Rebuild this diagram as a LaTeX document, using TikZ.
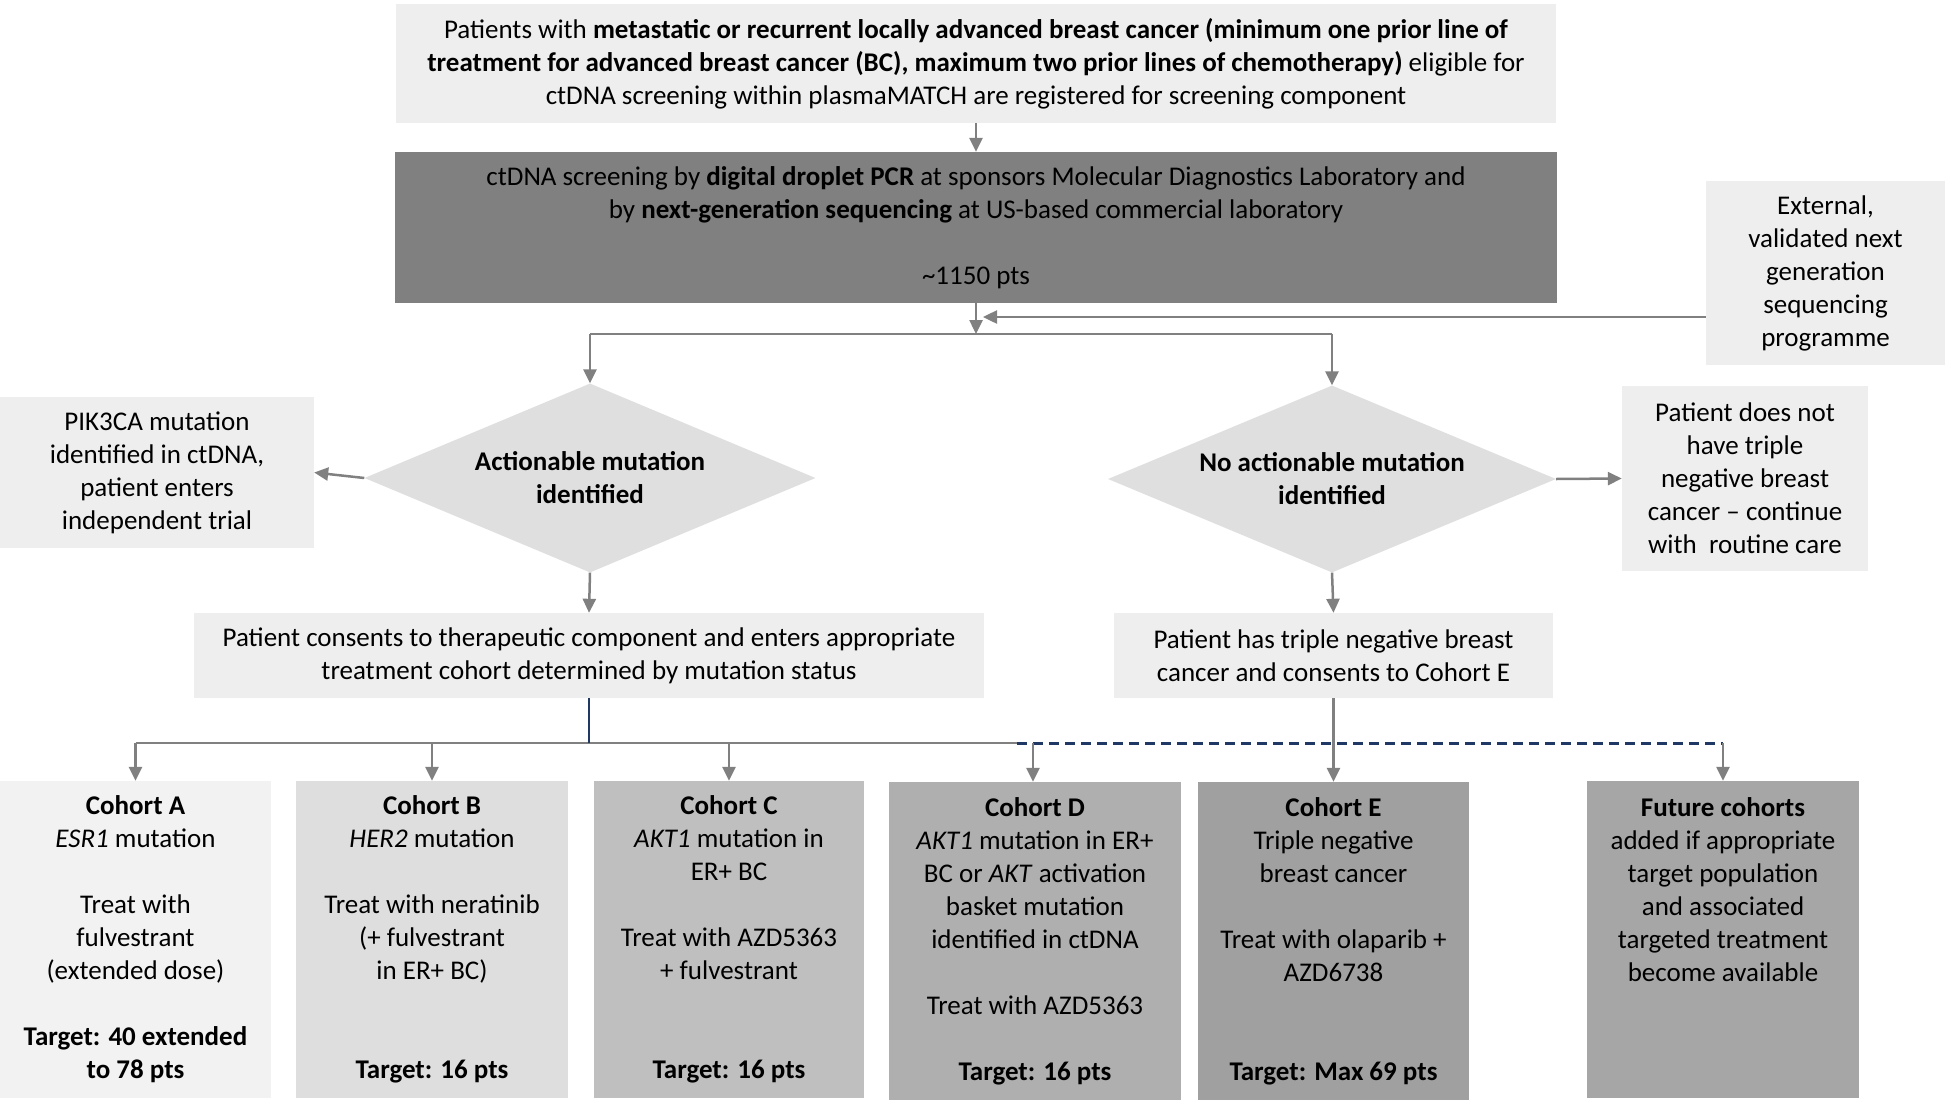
\documentclass[tikz,border=0pt]{standalone}
\usepackage{fontspec}
\setmainfont{Carlito}
\usetikzlibrary{arrows.meta,shapes.geometric}
\definecolor{linegray}{HTML}{808080}
\definecolor{navyline}{HTML}{1F3864}
\definecolor{boxlight}{HTML}{EEEEEE}
\definecolor{boxdark}{HTML}{808080}
\definecolor{diafill}{HTML}{DFDFDF}
\definecolor{cohA}{HTML}{F2F2F2}
\definecolor{cohB}{HTML}{DEDEDE}
\definecolor{cohC}{HTML}{BFBFBF}
\definecolor{cohD}{HTML}{AFAFAF}
\definecolor{cohE}{HTML}{A0A0A0}
\definecolor{cohF}{HTML}{A6A6A6}
\begin{document}
\begin{tikzpicture}[x=1pt,y=-1pt,
  every node/.style={font=\fontsize{27}{33}\selectfont, align=center, inner sep=0pt},
  sz/.style 2 args={minimum width=#1pt, minimum height=#2pt},
  boxnode/.style={rectangle, draw=none},
  decision/.style={diamond, shape aspect=2.4, fill=diafill, font=\fontsize{27}{33}\selectfont\bfseries},
  conn/.style={draw=linegray, line width=2.5pt, -{Triangle[length=14pt,width=13pt]}},
  plainline/.style={draw=linegray, line width=2.5pt},
  navysolid/.style={draw=navyline, line width=2pt},
  navydash/.style={draw=navyline, line width=3pt, dash pattern=on 10pt off 6pt},
]
\useasboundingbox (0,0) rectangle (1952,1100);
\fill[white] (0,0) rectangle (1952,1100);

% top boxes
\node[boxnode, fill=boxlight, sz={1160}{119}] (top) at (976,63.5)
 {Patients with \textbf{metastatic or recurrent locally advanced breast cancer (minimum one prior line of}\\
  \textbf{treatment for advanced breast cancer (BC), maximum two prior lines of chemotherapy)} eligible for\\
  ctDNA screening within plasmaMATCH are registered for screening component};

\node[boxnode, fill=boxdark, sz={1162}{151}] (ctdna) at (976,227.5)
 {ctDNA screening by \textbf{digital droplet PCR} at sponsors Molecular Diagnostics Laboratory and\\
  by \textbf{next-generation sequencing} at US-based commercial laboratory\\[33pt]
  \textasciitilde1150 pts};

\node[boxnode, fill=boxlight, sz={239}{184}] (ext) at (1825.5,273)
 {External,\\validated next\\generation\\sequencing\\programme};

% decisions
\node[decision, sz={451}{189}] (dA) at (590,478) {Actionable mutation\\identified};
\node[decision, sz={448}{187}] (dB) at (1332,479) {No actionable mutation\\identified};

\node[boxnode, fill=boxlight, sz={314}{151}] (pik) at (157,472.5)
 {PIK3CA mutation\\identified in ctDNA,\\patient enters\\independent trial};
\node[boxnode, fill=boxlight, sz={246}{185}] (notnbc) at (1745,478.5)
 {Patient does not\\have triple\\negative breast\\cancer -- continue\\with\ \ routine care};

\node[boxnode, fill=boxlight, sz={790}{85}] (consent) at (589,655.5)
 {Patient consents to therapeutic component and enters appropriate\\treatment cohort determined by mutation status};
\node[boxnode, fill=boxlight, sz={439}{85}] (tnbc) at (1333.5,655.5)
 {Patient has triple negative breast\\cancer and consents to Cohort E};

% cohorts
\node[boxnode, fill=cohA, sz={271}{317}] (cA) at (135.5,939.5)
 {\textbf{Cohort A}\\\textit{ESR1} mutation\\[33pt]Treat with\\fulvestrant\\(extended dose)\\[33pt]\textbf{Target: 40 extended}\\\textbf{to 78 pts}};
\node[boxnode, fill=cohB, sz={272}{317}] (cB) at (432,939.5)
 {\textbf{Cohort B}\\\textit{HER2} mutation\\[33pt]Treat with neratinib\\(+ fulvestrant\\in ER+ BC)\\[66pt]\textbf{Target: 16 pts}};
\node[boxnode, fill=cohC, sz={270}{317}] (cC) at (729,939.5)
 {\textbf{Cohort C}\\\textit{AKT1} mutation in\\ER+ BC\\[33pt]Treat with AZD5363\\+ fulvestrant\\[66pt]\textbf{Target: 16 pts}};
\node[boxnode, fill=cohD, sz={292}{318}] (cD) at (1035,941)
 {\textbf{Cohort D}\\\textit{AKT1} mutation in ER+\\BC or \textit{AKT} activation\\basket mutation\\identified in ctDNA\\[33pt]Treat with AZD5363\\[33pt]\textbf{Target: 16 pts}};
\node[boxnode, fill=cohE, sz={271}{318}] (cE) at (1333.5,941)
 {\textbf{Cohort E}\\Triple negative\\breast cancer\\[33pt]Treat with olaparib +\\AZD6738\\[66pt]\textbf{Target: Max 69 pts}};
\node[boxnode, fill=cohF, sz={272}{317}] (cF) at (1723,939.5)
 {\textbf{Future cohorts}\\added if appropriate\\target population\\and associated\\targeted treatment\\become available\\[66pt]\mbox{}};

% connectors
\coordinate (split) at (976,334);
\coordinate (extin) at (983,317);
\coordinate (bus) at (0,743);
\coordinate (dashstart) at (1017,743);

\draw[conn] (top.south) -- (ctdna.north);
\draw[conn] (ctdna.south) -- (split);
\draw[conn] (extin -| ext.west) -- (extin);
\draw[plainline] (dA.north |- split) -- (dB.north |- split);
\draw[conn] (dA.north |- split) -- (dA.north);
\draw[conn] (dB.north |- split) -- (dB.north);

\draw[conn] (dA.west) -- (pik.east);
\draw[conn] (dB.east) -- (notnbc.west);
\draw[conn] (dA.south) -- (consent.north);
\draw[conn] (dB.south) -- (tnbc.north);

\draw[plainline] (cA.north |- bus) -- (dashstart);
\draw[navydash] (dashstart) -- (cF.north |- bus);
\draw[navysolid] (consent.south) -- (consent.south |- bus);
\draw[conn] (cA.north |- bus) -- (cA.north);
\draw[conn] (cB.north |- bus) -- (cB.north);
\draw[conn] (cC.north |- bus) -- (cC.north);
\draw[conn] ([xshift=-2pt]cD.north |- bus) -- ([xshift=-2pt]cD.north);
\draw[conn] (cF.north |- bus) -- (cF.north);
\draw[conn] (tnbc.south) -- (cE.north);
\end{tikzpicture}
\end{document}
